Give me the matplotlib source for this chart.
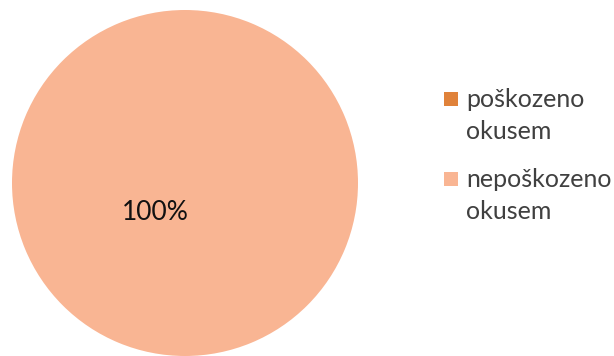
import matplotlib.pyplot as plt
from matplotlib.patches import Rectangle

plt.rcParams['font.family'] = ['Lato', 'DejaVu Sans']

# Share of fruit by damage
labels = ['poškozeno\nokusem', 'nepoškozeno\nokusem']
values = [0, 100]
colors = ['#E0823A', '#F9B593']

W, H = 614, 356
fig = plt.figure(figsize=(W / 100, H / 100), dpi=100)
ax = fig.add_axes([12 / W, 0, 346 / W, 346 / H])

ax.pie(values, colors=colors, startangle=90, counterclock=False,
       wedgeprops=dict(linewidth=0))
ax.set_xlim(-1, 1)
ax.set_ylim(-1, 1)
ax.set_aspect('equal')

total = sum(values)
ax.text(-0.17, -0.17, f"{values[1] / total * 100:.0f}%", ha='center', va='center',
        fontsize=19, color='#111111')

# legend drawn by hand: square beside the first line, label lines below
item_top = [92, 172]
line_step = 32
for top, lab, c in zip(item_top, labels, colors):
    fig.add_artist(Rectangle((444 / W, 1 - (top + 14) / H), 14 / W, 14 / H,
                             transform=fig.transFigure, facecolor=c, edgecolor='none'))
    for i, line in enumerate(lab.split('\n')):
        fig.text(466 / W, 1 - (top + 15 + i * line_step) / H, line,
                 ha='left', va='baseline', fontsize=18, color='#404040')

fig.savefig('out.png', dpi=100)
